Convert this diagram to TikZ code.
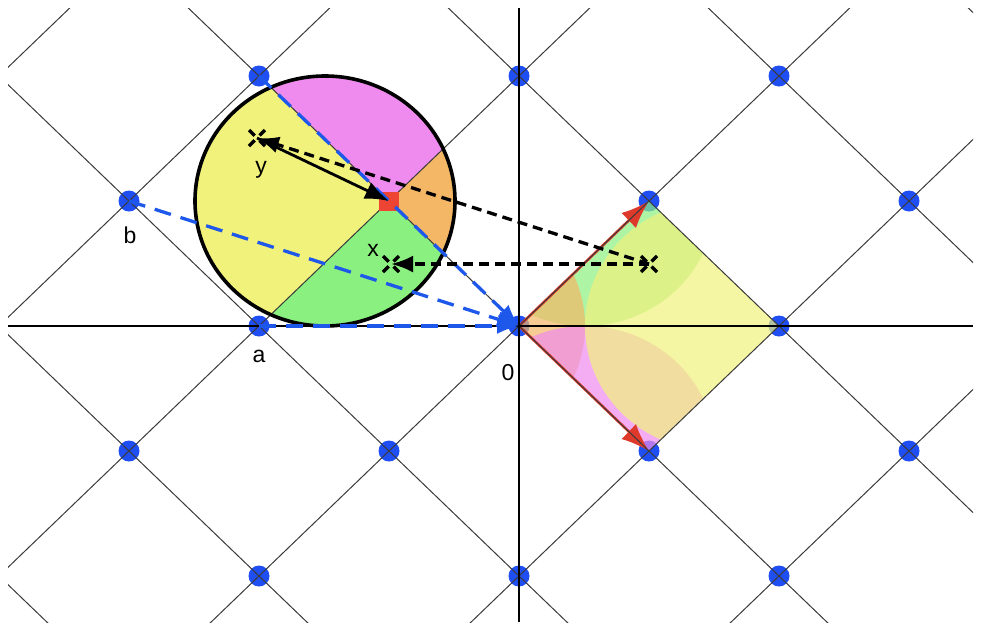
\documentclass[tikz,border=0pt]{standalone}
\usepackage{fontspec}
\setmainfont{Liberation Sans}
\usetikzlibrary{arrows.meta}
\definecolor{dotblue}{HTML}{1F4FF2}
\definecolor{dashblue}{HTML}{1E58EA}
\definecolor{gridgray}{HTML}{3A3A3A}
\definecolor{cyel}{HTML}{F1F27C}
\definecolor{cmag}{HTML}{EF8AEE}
\definecolor{cora}{HTML}{F4B766}
\definecolor{cgrn}{HTML}{8AF07F}
\definecolor{redq}{HTML}{EE4434}
\definecolor{redarrow}{HTML}{DE3A2C}
\begin{document}
\begin{tikzpicture}[x=1pt,y=-1pt,
  gridline/.style={draw=gridgray,line width=1pt},
  axisline/.style={draw=black,line width=1.6pt},
  latdot/.style={circle,fill=dotblue,inner sep=0pt,minimum size=21pt},
  redsq/.style={rectangle,fill=redq,inner sep=0pt,minimum width=20pt,minimum height=19pt},
  piecefill/.style={opacity=0.7},
  blueline/.style={draw=dashblue,line width=3.3pt,dash pattern=on 17pt off 10pt,-{Latex[length=22pt,width=16pt]}},
  blackdash/.style={draw=black,line width=3.3pt,dash pattern=on 10pt off 6pt,-{Latex[length=22pt,width=17pt]}},
  blacksolid/.style={draw=black,line width=2.8pt,-{Latex[length=24pt,width=18pt]}},
  redvec/.style={draw=redarrow,line width=2.6pt,-{Latex[length=28pt,width=21pt]}},
  crossmark/.style={draw=black,line width=3.3pt,dash pattern=on 8pt off 7pt},
  lbl/.style={font=\fontsize{23}{27}\selectfont,inner sep=0pt}
]
\useasboundingbox (0,0) rectangle (981,630);

% lattice points
\node[latdot] (A1) at (259,76) {};
\node[latdot] (A2) at (519,76) {};
\node[latdot] (A3) at (779,76) {};
\node[latdot] (b)  at (129,201) {};
\node[latdot] (B3) at (649,201) {};
\node[latdot] (B4) at (909,201) {};
\node[latdot] (a)  at (259,326) {};
\node[latdot] (O)  at (519,326) {};
\node[latdot] (C3) at (779,326) {};
\node[latdot] (D1) at (129,451) {};
\node[latdot] (D2) at (389,451) {};
\node[latdot] (D3) at (649,451) {};
\node[latdot] (D4) at (909,451) {};
\node[latdot] (E1) at (259,576) {};
\node[latdot] (E2) at (519,576) {};
\node[latdot] (E3) at (779,576) {};
\coordinate (Q) at (389,201);
\coordinate (C) at (325,201);

% circle pieces
\begin{scope}
  \clip (Q) -- ++(-390,-375) -- ++(0,750) -- cycle;
  \fill[cyel] (C) ellipse [x radius=130, y radius=125];
\end{scope}
\begin{scope}
  \clip (Q) -- ++(-390,-375) -- ++(780,0) -- cycle;
  \fill[cmag] (C) ellipse [x radius=130, y radius=125];
\end{scope}
\begin{scope}
  \clip (Q) -- ++(390,-375) -- ++(0,750) -- cycle;
  \fill[cora] (C) ellipse [x radius=130, y radius=125];
\end{scope}
\begin{scope}
  \clip (Q) -- ++(-390,375) -- ++(780,0) -- cycle;
  \fill[cgrn] (C) ellipse [x radius=130, y radius=125];
\end{scope}

% translated pieces in the fundamental cell
\begin{scope}
  \clip (O.center) -- (B3.center) -- (C3.center) -- (D3.center) -- cycle;
  \fill[cgrn,piecefill] (585,201) ellipse [x radius=130, y radius=125];
  \fill[cora,piecefill] (455,326) ellipse [x radius=130, y radius=125];
  \fill[cmag,piecefill] (585,451) ellipse [x radius=130, y radius=125];
  \fill[cyel,piecefill] (715,326) ellipse [x radius=130, y radius=125];
\end{scope}

% red basis vectors
\draw[redvec] (O.center) -- (B3.center);
\draw[redvec] (O.center) -- (D3.center);

% grid lines
\begin{scope}
  \clip (8,8) rectangle (973,622);
  \foreach \i in {-6,...,6} {
    \draw[gridline] ({519+130*\i-780},{326-125*\i-750}) -- ({519+130*\i+780},{326-125*\i+750});
    \draw[gridline] ({519+130*\i-780},{326+125*\i+750}) -- ({519+130*\i+780},{326+125*\i-750});
  }
\end{scope}

% axes
\coordinate (axL) at (8,326);
\coordinate (axR) at (973,326);
\coordinate (axT) at (519,8);
\coordinate (axB) at (519,622);
\draw[axisline] (axL) -- (axR);
\draw[axisline] (axT) -- (axB);

% circle border
\draw[black,line width=3.6pt] (C) ellipse [x radius=130, y radius=125];

% red lattice point
\node[redsq] (Qn) at (Q) {};

% blue dashed vectors
\draw[blueline] (b.center) -- (O.center);
\draw[blueline] (a.center) -- (O.center);
\draw[blueline] (A1.center) -- (O.center);

% points P, x, y
\coordinate (P) at (649,264);
\coordinate (X) at (391,264);
\coordinate (Y) at (257,138);

\draw[blackdash] (P) -- (Y);
\draw[blackdash] (P) -- (X);
\draw[blacksolid] (Y) -- (Q);

\foreach \p in {P,X,Y} {
  \draw[crossmark] ([shift={(-8,-8)}]\p) -- ([shift={(8,8)}]\p);
  \draw[crossmark] ([shift={(-8,8)}]\p) -- ([shift={(8,-8)}]\p);
}

% labels
\node[lbl] (ly) at (261,170) {y};
\node[lbl] (lx) at (373,250) {x};
\node[lbl] (lb) at (130,235) {b};
\node[lbl] (la) at (259,356) {a};
\node[lbl] (l0) at (508,373) {0};
\end{tikzpicture}
\end{document}
